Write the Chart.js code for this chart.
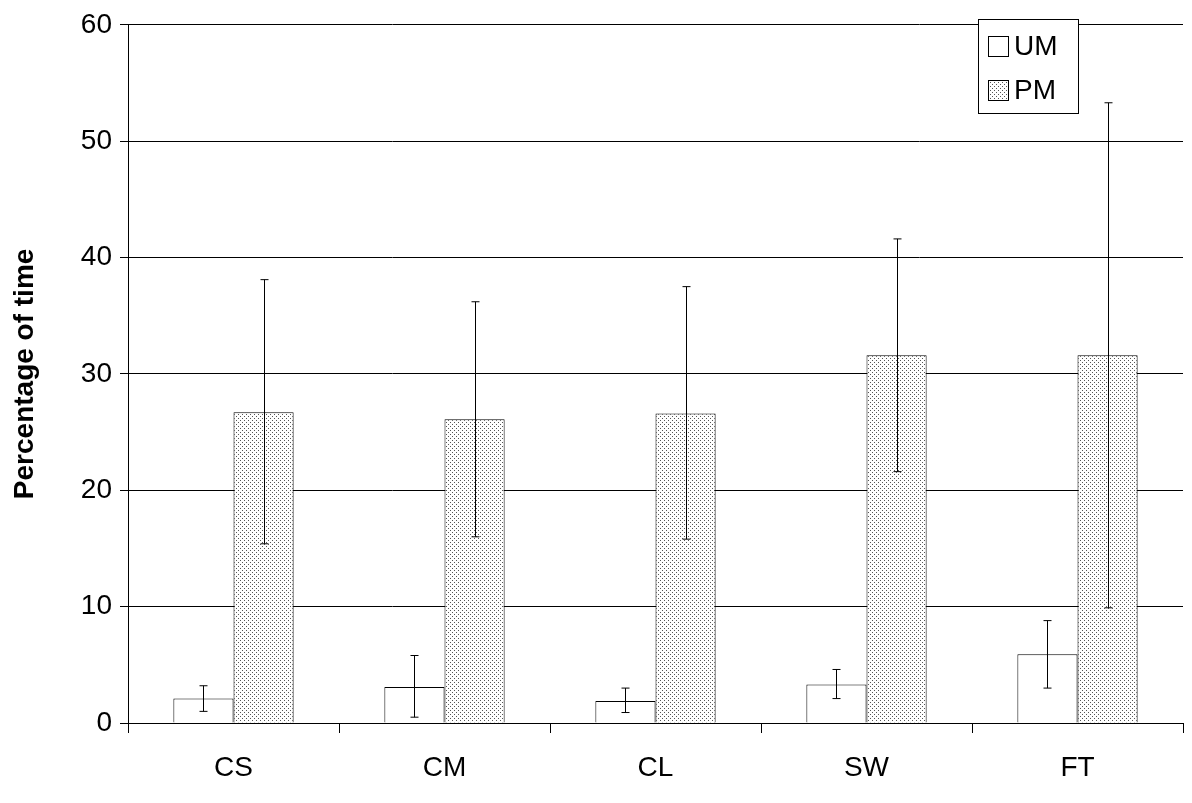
<!DOCTYPE html>
<html><head><meta charset="utf-8">
<script src="https://cdn.jsdelivr.net/npm/chart.js@4"></script>
<style>html,body{margin:0;padding:0;background:#fff}#c{display:block}</style>
</head><body>
<div style="width:1192px;height:803px"><canvas id="c"></canvas></div>
<script>
const categories = ["CS","CM","CL","SW","FT"];
const umValues = [2.1, 3.1, 1.9, 3.3, 5.9];
const umLow = [1.0, 0.5, 0.9, 2.1, 3.0];
const umHigh = [3.2, 5.8, 3.0, 4.6, 8.8];
const pmValues = [26.7, 26.1, 26.6, 31.6, 31.6];
const pmLow = [15.4, 16.0, 15.8, 21.6, 9.9];
const pmHigh = [38.1, 36.2, 37.5, 41.6, 53.3];
const yTicks = [0,10,20,30,40,50,60];

function dots(){
  const p=document.createElement('canvas');p.width=4;p.height=4;
  const g=p.getContext('2d');g.fillStyle='#fff';g.fillRect(0,0,4,4);
  g.fillStyle='#555';g.fillRect(0,0,1,1);g.fillRect(2,2,1,1);
  return g.createPattern(p,'repeat');
}
const ctx=document.getElementById('c').getContext('2d');
const pat=dots();
const errPlugin={id:'err',afterDatasetsDraw(chart){
  const c=chart.ctx, y=chart.scales.y;
  const lows=[umLow,pmLow], highs=[umHigh,pmHigh];
  c.save();c.strokeStyle='#000';c.lineWidth=1;
  chart.data.datasets.forEach((ds,i)=>{
    chart.getDatasetMeta(i).data.forEach((bar,j)=>{
      const x=Math.round(bar.x)+0.5, y1=y.getPixelForValue(lows[i][j]), y2=y.getPixelForValue(highs[i][j]);
      c.beginPath();c.moveTo(x,y1);c.lineTo(x,y2);
      c.moveTo(x-4,y1);c.lineTo(x+4,y1);c.moveTo(x-4,y2);c.lineTo(x+4,y2);c.stroke();
    });
  });
  const lx=978, ly=19, w=100, h=94;
  c.fillStyle='#fff';c.fillRect(lx,ly,w,h);c.strokeRect(lx+0.5,ly+0.5,w,h);
  c.font='28px "Liberation Sans", Arial';c.textBaseline='middle';
  [['UM','#fff'],['PM',pat]].forEach((it,k)=>{
    const yy=ly+27+k*44;
    c.fillStyle=it[1];c.fillRect(lx+10,yy-10,20,20);c.strokeRect(lx+10.5,yy-9.5,20,20);
    c.fillStyle='#000';c.fillText(it[0],lx+36,yy+1);
  });
  c.restore();
}};
new Chart(ctx,{type:'bar',
  data:{labels:categories,datasets:[
    {label:'UM',data:umValues,backgroundColor:'#fff',borderColor:'#000',borderWidth:1,barPercentage:1,categoryPercentage:0.57},
    {label:'PM',data:pmValues,backgroundColor:pat,borderColor:'#000',borderWidth:1,barPercentage:1,categoryPercentage:0.57}
  ]},
  options:{responsive:true,maintainAspectRatio:false,animation:false,
    layout:{padding:{top:4,right:9,left:4,bottom:0}},
    plugins:{legend:{display:false},tooltip:{enabled:false}},
    scales:{
      x:{afterFit(s){s.height=80;},grid:{offset:true,drawOnChartArea:false,color:'#000',tickLength:10},border:{color:'#000'},
        ticks:{color:'#000',font:{family:'"Liberation Sans", Arial',size:28},padding:18}},
      y:{min:0,max:60,afterFit(s){s.width=124;},afterBuildTicks(s){s.ticks=yTicks.map(v=>({value:v}));},
        grid:{color:'#000',tickLength:8},border:{color:'#000'},
        ticks:{color:'#000',font:{family:'"Liberation Sans", Arial',size:28},padding:8},
        title:{display:true,text:'Percentage of time',color:'#000',font:{family:'"Liberation Sans", Arial',size:28,weight:'bold'}}}
    }},
  plugins:[errPlugin]});
</script></body></html>
